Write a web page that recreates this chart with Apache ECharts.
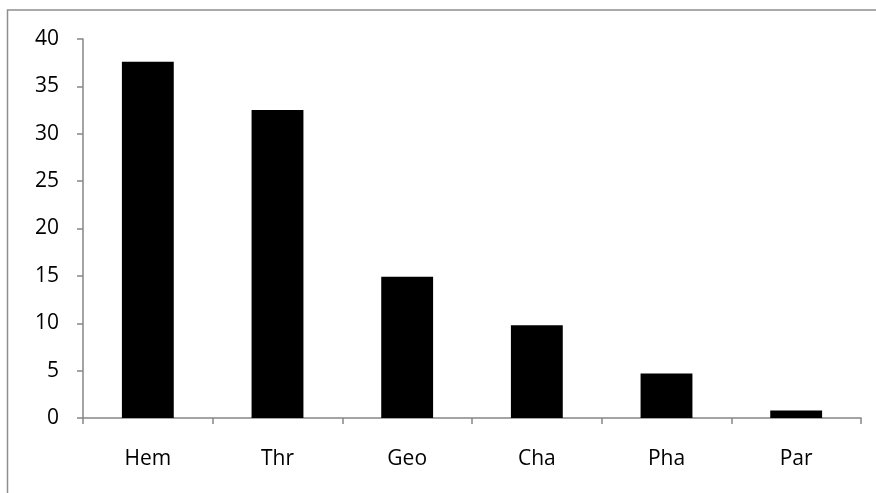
<!DOCTYPE html>
<html>
<head>
<meta charset="utf-8">
<style>html,body{margin:0;padding:0;background:#fff}#c{width:876px;height:493px}</style>
<script src="https://cdn.jsdelivr.net/npm/echarts@6/dist/echarts.min.js"></script>
</head>
<body>
<div id="c"></div>
<script>
var categories = ['Hem', 'Thr', 'Geo', 'Cha', 'Pha', 'Par'];
var values = [37.6, 32.5, 14.9, 9.8, 4.7, 0.8];
var yTicks = { min: 0, max: 40, interval: 5 };

var chart = echarts.init(document.getElementById('c'), null, { renderer: 'canvas' });
var axisColor = '#868686';
var font = '"Open Sans", sans-serif';
chart.setOption({
  animation: false,
  backgroundColor: '#fff',
  graphic: [{
    type: 'rect',
    shape: { x: 7.5, y: 10, width: 900, height: 520 },
    style: { fill: 'none', stroke: '#8e8e8e', lineWidth: 1.5 },
    silent: true
  }],
  grid: { left: 83, right: 15, top: 39, bottom: 75, containLabel: false },
  xAxis: {
    type: 'category',
    data: categories,
    axisLine: { show: true, lineStyle: { color: axisColor, width: 1.5 } },
    axisTick: { show: true, length: 6, lineStyle: { color: axisColor, width: 1.5 } },
    axisLabel: { color: '#000', fontSize: 21, fontFamily: font, margin: 31 },
    splitLine: { show: false }
  },
  yAxis: {
    type: 'value',
    min: yTicks.min, max: yTicks.max, interval: yTicks.interval,
    axisLine: { show: true, lineStyle: { color: axisColor, width: 1.5 } },
    axisTick: { show: true, length: 6, lineStyle: { color: axisColor, width: 1.5 } },
    axisLabel: { color: '#000', fontSize: 21, fontFamily: font, margin: 24 },
    splitLine: { show: false }
  },
  series: [{
    type: 'bar',
    data: values,
    barWidth: '40%',
    itemStyle: { color: '#000' }
  }]
});
</script>
</body>
</html>
